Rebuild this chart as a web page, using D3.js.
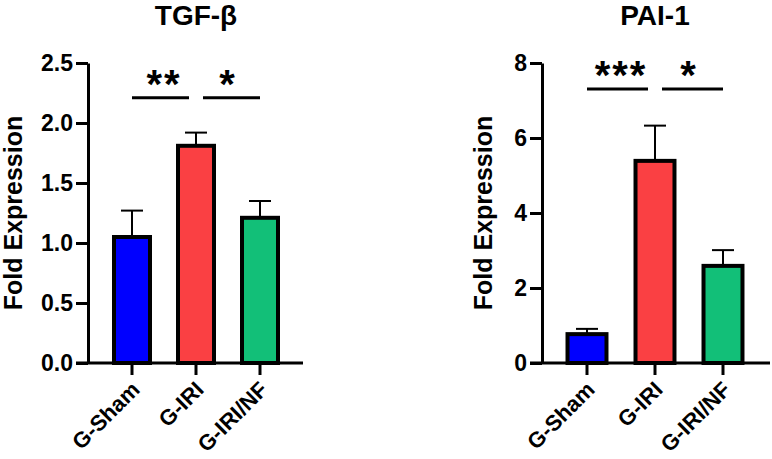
<!DOCTYPE html>
<html>
<head>
<meta charset="utf-8">
<script src="https://cdn.jsdelivr.net/npm/d3@7"></script>
<style>
  html, body { margin: 0; padding: 0; background: #fff; }
  svg { display: block; font-family: "Liberation Sans", Arial, sans-serif; }
</style>
</head>
<body>
<svg id="chart" width="772" height="459"></svg>
<script>
// Groups and bar colours (shared by both panels)
const groups = ['G-Sham', 'G-IRI', 'G-IRI/NF'];
const barColors = ['#0000ff', '#fa4043', '#12bf78'];

// TGF-beta fold expression: mean and SEM
const tgfMean = [1.05, 1.81, 1.21];
const tgfSem = [0.22, 0.11, 0.14];
const tgfTicks = [0, 0.5, 1.0, 1.5, 2.0, 2.5];

// PAI-1 fold expression: mean and SEM
const paiMean = [0.77, 5.39, 2.59];
const paiSem = [0.14, 0.94, 0.42];
const paiTicks = [0, 2, 4, 6, 8];

// Significance brackets (group index pairs, level in data units)
const tgfSig = [
  { from: 0, to: 1, label: '**', level: 2.21 },
  { from: 1, to: 2, label: '*', level: 2.21 }
];
const paiSig = [
  { from: 0, to: 1, label: '***', level: 7.31 },
  { from: 1, to: 2, label: '*', level: 7.31 }
];

const svg = d3.select('#chart');

function drawPanel(opts) {
  const g = svg.append('g');
  const y = d3.scaleLinear()
    .domain(opts.yDomain)
    .range([363, 63]);
  const x = d3.scaleBand()
    .domain(groups)
    .range(opts.xRange)
    .paddingInner(opts.padIn)
    .paddingOuter(opts.padIn / 2);
  const cx = d => x(d) + x.bandwidth() / 2;

  // Title
  g.append('text')
    .attr('x', cx(groups[1]))
    .attr('y', 25)
    .attr('text-anchor', 'middle')
    .attr('font-size', 28)
    .attr('font-weight', 'bold')
    .text(opts.title);

  // Y axis
  const yAxisG = g.append('g')
    .attr('transform', `translate(${opts.axisX},0)`)
    .call(d3.axisLeft(y).tickValues(opts.ticks).tickFormat(opts.fmt).tickSize(12).tickSizeOuter(0).tickPadding(3));
  yAxisG.select('.domain').attr('stroke-width', 3);
  yAxisG.selectAll('.tick line').attr('stroke-width', 3);
  yAxisG.selectAll('.tick text')
    .attr('font-size', 23)
    .attr('font-weight', 'bold')
    .attr('font-family', '"Liberation Sans", Arial, sans-serif')
    .attr('fill', '#000');

  // Y axis title
  g.append('text')
    .attr('transform', `translate(${opts.labelX},213) rotate(-90)`)
    .attr('text-anchor', 'middle')
    .attr('font-size', 25)
    .attr('font-weight', 'bold')
    .text('Fold Expression');

  // Error bars (upward only)
  groups.forEach((grp, i) => {
    const top = y(opts.mean[i] + opts.sem[i]);
    g.append('line')
      .attr('x1', cx(grp)).attr('x2', cx(grp))
      .attr('y1', y(opts.mean[i])).attr('y2', top)
      .attr('stroke', '#000').attr('stroke-width', 2);
    g.append('line')
      .attr('x1', cx(grp) - 11).attr('x2', cx(grp) + 11)
      .attr('y1', top).attr('y2', top)
      .attr('stroke', '#000').attr('stroke-width', 2);
  });

  // Bars
  g.selectAll('rect.bar')
    .data(groups)
    .join('rect')
    .attr('class', 'bar')
    .attr('x', d => x(d) + 2)
    .attr('width', x.bandwidth() - 4)
    .attr('y', (d, i) => y(opts.mean[i]))
    .attr('height', (d, i) => y(0) - y(opts.mean[i]))
    .attr('fill', (d, i) => barColors[i])
    .attr('stroke', '#000')
    .attr('stroke-width', 4);

  // X axis line and ticks
  const xAxisG = g.append('g')
    .attr('transform', `translate(0,${y(0)})`)
    .call(d3.axisBottom(x).tickSize(12).tickSizeOuter(0).tickFormat(''));
  xAxisG.select('.domain').remove();
  xAxisG.selectAll('.tick line').attr('stroke-width', 3);
  g.append('line')
    .attr('x1', opts.axisX - 12).attr('x2', opts.xEnd)
    .attr('y1', y(0)).attr('y2', y(0))
    .attr('stroke', '#000').attr('stroke-width', 3);

  // Rotated category labels
  g.selectAll('text.cat')
    .data(groups)
    .join('text')
    .attr('class', 'cat')
    .attr('transform', d => `translate(${cx(d) + 9},391) rotate(-45)`)
    .attr('text-anchor', 'end')
    .attr('font-size', 22)
    .attr('font-weight', 'bold')
    .text(d => d);

  // Significance brackets
  opts.sig.forEach(s => {
    const x1 = cx(groups[s.from]);
    const x2 = cx(groups[s.to]);
    const ly = y(s.level);
    g.append('line')
      .attr('x1', s.from === 0 ? x1 : x1 + 7)
      .attr('x2', s.from === 0 ? x2 - 7 : x2)
      .attr('y1', ly).attr('y2', ly)
      .attr('stroke', '#000').attr('stroke-width', 3);
    g.append('text')
      .attr('x', (x1 + x2) / 2)
      .attr('y', ly)
      .attr('text-anchor', 'middle')
      .attr('font-size', 40)
      .attr('font-weight', 'bold')
      .attr('letter-spacing', 2)
      .text(s.label);
  });
}

drawPanel({
  title: 'TGF-β',
  mean: tgfMean, sem: tgfSem, ticks: tgfTicks,
  fmt: d3.format('.1f'),
  yDomain: [0, 2.5],
  axisX: 88, labelX: 22, xEnd: 303,
  xRange: [100, 292], padIn: 0.375,
  sig: tgfSig
});

drawPanel({
  title: 'PAI-1',
  mean: paiMean, sem: paiSem, ticks: paiTicks,
  fmt: d3.format('d'),
  yDomain: [0, 8],
  axisX: 542, labelX: 492, xEnd: 770,
  xRange: [553, 757], padIn: 0.368,
  sig: paiSig
});
</script>
</body>
</html>
